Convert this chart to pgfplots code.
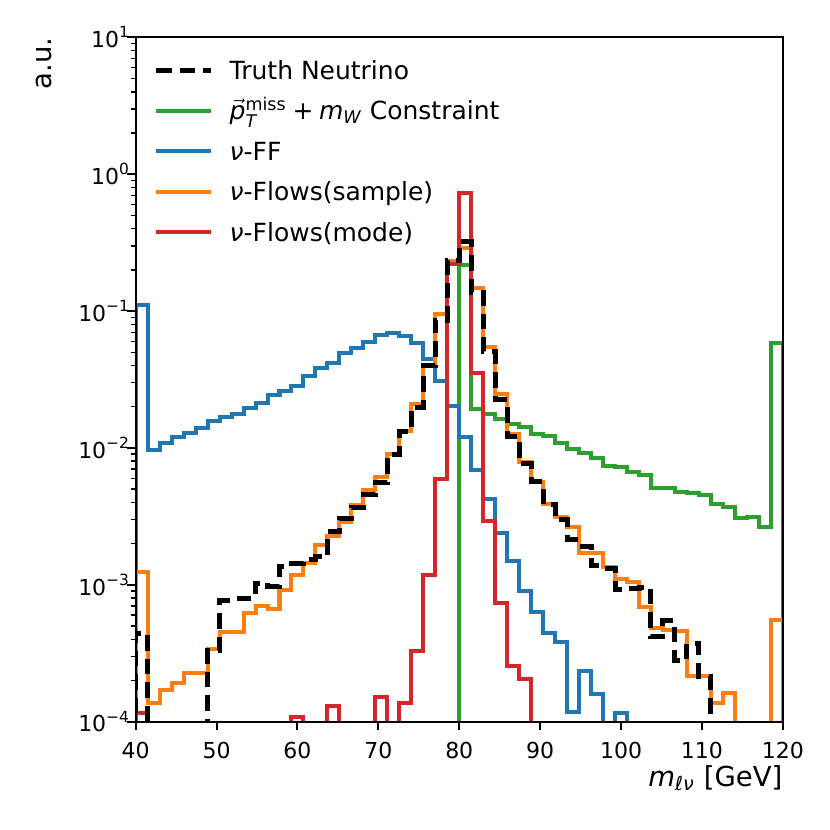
\documentclass[border=0pt]{standalone}
\usepackage{fontspec}
\setmainfont{DejaVu Sans}
\usepackage{amsmath}
\usepackage{pgfplots}
\usepackage{pgfplotstable}
\pgfplotsset{compat=1.18}
\definecolor{tabblue}{HTML}{1F77B4}
\definecolor{taborange}{HTML}{FF7F0E}
\definecolor{tabgreen}{HTML}{2CA02C}
\definecolor{tabred}{HTML}{D62728}
\pgfplotstableread{
x tr gr bl or rd
40 1e-6 1e-6 1e-6 1e-6 1e-6
40 4.43e-4 1e-6 0.111 1.25e-3 1.16e-4
41.4815 1e-6 1e-6 0.00967 1.38e-4 1e-6
42.9630 1e-6 1e-6 0.01094 1.71e-4 1e-6
44.4444 1e-6 1e-6 0.0120 1.93e-4 1e-6
45.9259 1e-6 1e-6 0.0129 2.26e-4 1e-6
47.4074 1e-6 1e-6 0.0141 2.26e-4 1e-6
48.8889 3.3e-4 1e-6 0.0158 3.39e-4 1e-6
50.3704 7.7e-4 1e-6 0.0167 4.55e-4 1e-6
51.8519 7.9e-4 1e-6 0.0176 4.55e-4 1e-6
53.3333 8.0e-4 1e-6 0.0195 6.2e-4 1e-6
54.8148 1.03e-3 1e-6 0.0214 7.0e-4 1e-6
56.2963 0.98e-3 1e-6 0.0244 6.7e-4 1e-6
57.7778 1.37e-3 1e-6 0.0261 9.1e-4 1e-6
59.2593 1.42e-3 1e-6 0.0285 1.18e-3 1.09e-4
60.7407 1.54e-3 1e-6 0.0335 1.44e-3 1e-6
62.2222 1.60e-3 1e-6 0.0382 1.95e-3 1e-6
63.7037 2.45e-3 1e-6 0.0420 2.28e-3 1.30e-4
65.1852 3.06e-3 1e-6 0.0497 2.90e-3 1e-6
66.6667 3.70e-3 1e-6 0.0535 3.80e-3 1e-6
68.1481 4.60e-3 1e-6 0.0598 4.90e-3 1e-6
69.6296 5.60e-3 1e-6 0.0669 6.10e-3 1.51e-4
71.1111 9.0e-3 1e-6 0.0689 9.0e-3 1e-6
72.5926 0.0131 1e-6 0.0658 0.0132 1.38e-4
74.0741 0.0199 1e-6 0.0588 0.0210 3.3e-4
75.5556 0.0400 1e-6 0.0444 0.0400 1.18e-3
77.0370 0.086 1e-6 0.0310 0.095 5.97e-3
78.5185 0.236 1e-6 0.0202 0.234 0.221
80.0000 0.321 0.217 0.0120 0.288 0.733
81.4815 0.136 0.0192 6.9e-3 0.147 0.0355
82.9630 0.0505 0.0177 4.22e-3 0.0544 2.94e-3
84.4444 0.0226 0.0164 2.41e-3 0.0246 7.4e-4
85.9259 0.0121 0.0150 1.50e-3 0.0127 2.56e-4
87.4074 7.7e-3 0.0143 9.0e-4 7.9e-3 2.04e-4
88.8889 5.7e-3 0.0126 6.3e-4 5.67e-3 1e-6
90.3704 3.85e-3 0.0122 4.45e-4 3.9e-3 1e-6
91.8519 3.0e-3 0.0108 3.85e-4 3.15e-3 1e-6
93.3333 2.14e-3 9.8e-3 1.17e-4 2.64e-3 1e-6
94.8148 1.92e-3 9.2e-3 2.34e-4 1.72e-3 1e-6
96.2963 1.38e-3 8.4e-3 1.60e-4 1.71e-3 1e-6
97.7778 1.32e-3 7.4e-3 1e-6 1.35e-3 1e-6
99.2593 9.2e-4 7.2e-3 1.16e-4 1.10e-3 1e-6
100.7407 9.4e-4 6.7e-3 1e-6 1.05e-3 1e-6
102.2222 9.5e-4 6.35e-3 1e-6 6.9e-4 1e-6
103.7037 4.2e-4 5.1e-3 1e-6 4.8e-4 1e-6
105.1852 5.5e-4 5.1e-3 1e-6 4.7e-4 1e-6
106.6667 2.8e-4 4.75e-3 1e-6 4.6e-4 1e-6
108.1481 3.7e-4 4.67e-3 1e-6 2.14e-4 1e-6
109.6296 2.14e-4 4.54e-3 1e-6 2.14e-4 1e-6
111.1111 1e-6 3.9e-3 1e-6 1.38e-4 1e-6
112.5926 1e-6 3.73e-3 1e-6 1.61e-4 1e-6
114.0741 1e-6 3.06e-3 1e-6 1e-6 1e-6
115.5556 1e-6 3.15e-3 1e-6 1e-6 1e-6
117.0370 1e-6 2.66e-3 1e-6 1e-6 1e-6
118.5185 1e-6 0.0588 1e-6 5.5e-4 1e-6
120 1e-6 0.0588 1e-6 5.5e-4 1e-6
120 1e-6 1e-6 1e-6 1e-6 1e-6
}\datatable
\begin{document}
\begin{tikzpicture}
\begin{axis}[
  scale only axis, width=258.84pt, height=273.76pt,
  ymode=log, xmin=40, xmax=120, ymin=1e-4, ymax=10,
  xtick={40,50,...,120},
  ytick={1e-4,1e-3,1e-2,1e-1,1,10},
  yticklabels={{10\textsuperscript{−4}},{10\textsuperscript{−3}},{10\textsuperscript{−2}},{10\textsuperscript{−1}},{10\textsuperscript{0}},{10\textsuperscript{1}}},
  minor ytick={2e-4,3e-4,4e-4,5e-4,6e-4,7e-4,8e-4,9e-4,2e-3,3e-3,4e-3,5e-3,6e-3,7e-3,8e-3,9e-3,2e-2,3e-2,4e-2,5e-2,6e-2,7e-2,8e-2,9e-2,0.2,0.3,0.4,0.5,0.6,0.7,0.8,0.9,2,3,4,5,6,7,8,9},
  tick align=outside, tick pos=left,
  major tick length=3.5pt, minor tick length=2pt,
  every major tick/.append style={line width=0.8pt, black},
  every minor tick/.append style={line width=0.6pt, black},
  axis line style={line width=0.8pt},
  axis on top,
  tick label style={font=\fontsize{8.8}{10}\selectfont},
  xticklabel style={inner sep=0pt, anchor=north, yshift=-4.6pt},
  yticklabel style={inner sep=0pt, anchor=east, xshift=1.5pt},
  /pgf/number format/assume math mode=true,
  xlabel={\textit{m}\textsubscript{\textit{ℓν}} [GeV]},
  ylabel={a.u.},
  xlabel style={font=\fontsize{11}{13}\selectfont, at={(axis description cs:1,0)}, anchor=north east, inner sep=0pt, yshift=-17.2pt},
  ylabel style={font=\fontsize{11}{13}\selectfont, at={(axis description cs:0,1)}, anchor=south east, inner sep=0pt, yshift=33.5pt},
  legend image code/.code={\draw[#1] (0pt,0pt) -- (22pt,0pt);},
  legend style={draw=none, fill=none, inner sep=0pt, outer sep=0pt,
    at={(axis description cs:0,1)}, anchor=north west, xshift=7.3pt, yshift=-7.8pt,
    font=\fontsize{10}{12}\selectfont, row sep=5.5pt, column sep=6.3pt,
    nodes={inner sep=0pt, text height=9pt, text depth=1.7pt}},
  legend cell align=left,
]
\addlegendimage{black, line width=2pt, dash pattern=on 6.2pt off 3.2pt}
\addlegendentry{Truth Neutrino}
\addplot[const plot mark left, tabgreen, line width=1.6pt, line join=miter] table[x=x,y=gr]{\datatable};
\addlegendentry{${\smash[t]{\vec{\textit{p}}}\vphantom{\textit{p}}}_{\textit{T}}^{\text{miss}}\mathbin{\text{+}}\textit{m}_{\textit{W}}$ Constraint}
\addplot[const plot mark left, tabblue, line width=1.6pt, line join=miter] table[x=x,y=bl]{\datatable};
\addlegendentry{\textit{ν}-FF}
\addplot[const plot mark left, taborange, line width=1.6pt, line join=miter] table[x=x,y=or]{\datatable};
\addlegendentry{\textit{ν}-Flows(sample)}
\addplot[const plot mark left, tabred, line width=1.6pt, line join=miter] table[x=x,y=rd]{\datatable};
\addlegendentry{\textit{ν}-Flows(mode)}
\addplot[const plot mark left, black, line width=2pt, dash pattern=on 6.2pt off 3.2pt, forget plot] table[x=x,y=tr]{\datatable};
\coordinate (sw) at (rel axis cs:0,0);
\coordinate (ne) at (rel axis cs:1,1);
\end{axis}
\pgfresetboundingbox
\path[use as bounding box] ([xshift=-54.28pt,yshift=-43.32pt]sw) rectangle ([xshift=18.88pt,yshift=14.92pt]ne);
\end{tikzpicture}
\end{document}
